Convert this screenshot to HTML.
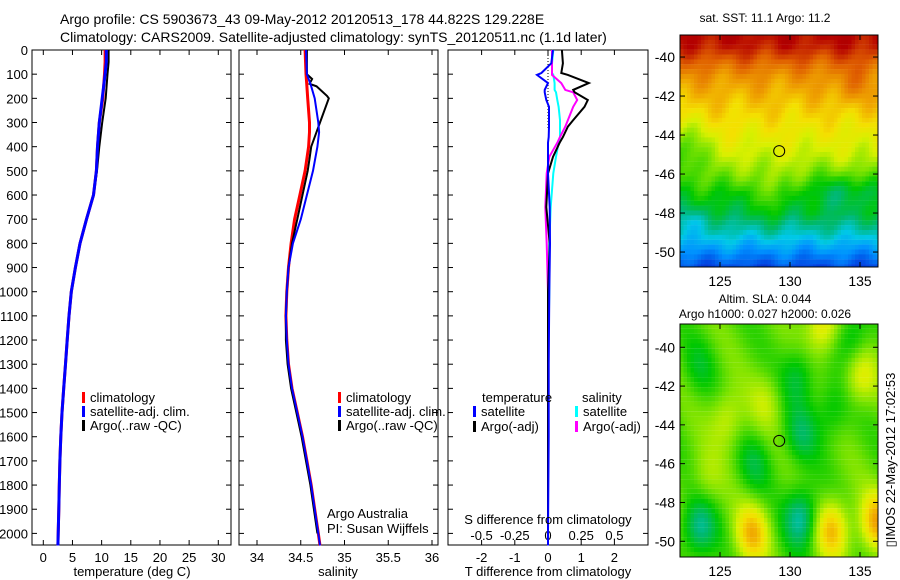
<!DOCTYPE html>
<html><head><meta charset="utf-8"><style>
body{margin:0;background:#fff;}
svg{display:block;font-family:"Liberation Sans",sans-serif;}
</style></head><body>
<svg id="c" width="900" height="580" viewBox="0 0 900 580">
<text x="60" y="24" font-size="14">Argo profile: CS 5903673_43 09-May-2012 20120513_178 44.822S 129.228E</text>
<text x="60" y="42" font-size="14">Climatology: CARS2009. Satellite-adjusted climatology: synTS_20120511.nc (1.1d later)</text>
<g id="g"></g>
</svg>
<script>
// ---- data ----
const tDepth=[0,50,100,200,300,400,500,600,700,800,900,1000,1100,1200,1300,1400,1500,1600,1700,1800,1900,2000,2050];
const tClim=[10.6,10.6,10.5,10.2,9.6,9.3,9.1,8.6,7.4,6.3,5.5,4.8,4.4,4.1,3.8,3.5,3.2,3.0,2.85,2.75,2.65,2.55,2.5];
const tSat=[10.8,10.8,10.6,10.1,9.6,9.3,9.1,8.6,7.4,6.3,5.5,4.8,4.4,4.1,3.8,3.5,3.2,3.0,2.85,2.75,2.65,2.55,2.5];
const tArgo=[11.2,11.2,11.0,10.7,10.1,9.6,9.2,8.6,7.4,6.3,5.5,4.8,4.4,4.1,3.8,3.5,3.2,3.0,2.85,2.75,2.65,2.6,2.6];
const sDepth=[0,100,150,200,300,340,400,500,600,700,800,900,1000,1100,1200,1300,1400,1500,1600,1700,1800,1900,2000,2050];
const sClim=[34.55,34.56,34.57,34.58,34.60,34.60,34.59,34.55,34.49,34.43,34.39,34.36,34.34,34.33,34.34,34.36,34.40,34.46,34.52,34.57,34.62,34.66,34.70,34.72];
const sSat=[34.56,34.57,34.62,34.66,34.70,34.71,34.69,34.64,34.57,34.50,34.41,34.36,34.34,34.33,34.34,34.36,34.40,34.46,34.52,34.57,34.62,34.66,34.70,34.72];
const argoSDepth=[0,100,120,140,150,190,200,300,400,450,500,600,700,800,900,1000,1100,1200,1300,1400,1500,1600,1700,1800,1900,2000];
const argoS=[34.57,34.57,34.63,34.60,34.68,34.80,34.82,34.72,34.62,34.60,34.58,34.52,34.46,34.40,34.36,34.34,34.33,34.33,34.35,34.39,34.45,34.51,34.56,34.61,34.65,34.69];
const dDepth=[0,55,95,103,137,165,175,207,235,290,317,360,384,442,510,650,800,1000,1300,1600,2000,2050];
const dTSat=[0.15,0.1,-0.2,-0.33,0,-0.1,-0.1,-0.05,0.03,0.03,0.03,0.02,0.0,0.0,0.0,0.05,0.06,0.04,0.02,0.02,0.0,0.0];
const dTArgo=[0.42,0.45,0.4,0.6,1.23,0.76,0.8,1.2,1.1,0.76,0.6,0.45,0.35,0.15,0.0,-0.05,0.05,0.0,0.0,0.0,0.0,0.0];
const dSSat=[0.04,0.03,0.03,0.04,0.05,0.05,0.06,0.07,0.08,0.09,0.09,0.09,0.08,0.06,0.04,0.02,0.01,0.01,0.0,0.0,0.0,0.0];
const dSArgo=[0.03,0.03,0.03,0.03,0.1,0.13,0.19,0.22,0.19,0.15,0.13,0.09,0.07,0.01,-0.01,-0.02,-0.01,0.0,0.0,0.0,0.0,0.0];
const depthTicks=[0,100,200,300,400,500,600,700,800,900,1000,1100,1200,1300,1400,1500,1600,1700,1800,1900,2000];
const tTicks=[0,5,10,15,20,25,30];
const sTicks=[34,34.5,35,35.5,36];
const dTTicks=[-2,-1,0,1,2];
const dSTicks=["-0.5","-0.25","0","0.25","0.5"];
const lonTicks=[125,130,135];
const latTicks=[-40,-42,-44,-46,-48,-50];

const NS="http://www.w3.org/2000/svg";
const G=document.getElementById('g');
function mk(tag,at,par){const e=document.createElementNS(NS,tag);for(const k in at)e.setAttribute(k,at[k]);(par||G).appendChild(e);return e;}
function txt(x,y,s,anchor,size,par){const t=mk('text',{x:x,y:y,'font-size':size||13,'text-anchor':anchor||'start'},par);t.textContent=s;return t;}
const Y=d=>50+d*0.2417;
const XT=v=>43.3+v*5.833;
const XS=v=>257+(v-34)*87.5;
const XD=v=>548+v*33.2;
const XDS=v=>548+v*132.8;

function panel(x0,x1,name){
  const r=mk('rect',{x:x0,y:50,width:x1-x0,height:495,fill:'none',stroke:'#000','stroke-width':1});
  
  
  depthTicks.forEach(d=>{mk('line',{x1:x0,x2:x0+5,y1:Y(d),y2:Y(d),stroke:'#000'});mk('line',{x1:x1-5,x2:x1,y1:Y(d),y2:Y(d),stroke:'#000'});});
}
function xticks(xs,fx,labels,ylab){xs.forEach((v,i)=>{const x=fx(v);mk('line',{x1:x,x2:x,y1:50,y2:55,stroke:'#000'});mk('line',{x1:x,x2:x,y1:540,y2:545,stroke:'#000'});if(labels){const t=txt(x,ylab,labels[i],'middle');}});}
function line(ds,vs,fx,col,name,w){
  const pts=ds.map((d,i)=>fx(vs[i]).toFixed(1)+','+Y(d).toFixed(1)).join(' ');
  const p=mk('polyline',{points:pts,fill:'none',stroke:col,'stroke-width':w||2});
  
  
}
function legend(x,y,col,s){mk('rect',{x:x,y:y-10,width:3,height:11,fill:col});const t=txt(x+8,y,s);}

// Panel 1
panel(32,231,'temperature-panel');
depthTicks.forEach(d=>{const t=txt(28,Y(d)+5,String(d),'end');});
xticks(tTicks,XT,tTicks.map(String),562);
line(tDepth,tClim,XT,'#f00','temp-climatology-line',3);
line(tDepth,tArgo,XT,'#000','temp-argo-line',2);
line(tDepth,tSat,XT,'#00f','temp-satellite-line',3);
legend(82,402,'#f00','climatology');legend(82,416,'#00f','satellite-adj. clim.');legend(82,430,'#000','Argo(..raw -QC)');
let t=txt(132,576,'temperature (deg C)','middle');

// Panel 2
panel(239,438,'salinity-panel');
xticks(sTicks,XS,sTicks.map(String),562);
line(sDepth,sClim,XS,'#f00','sal-climatology-line',3);
line(argoSDepth,argoS,XS,'#000','sal-argo-line',2);
line(sDepth,sSat,XS,'#00f','sal-satellite-line',2);
legend(338,402,'#f00','climatology');legend(338,416,'#00f','satellite-adj. clim.');legend(338,430,'#000','Argo(..raw -QC)');
txt(327,518,'Argo Australia');txt(327,533,'PI: Susan Wijffels');
t=txt(338,576,'salinity','middle');

// Panel 3
panel(448,648,'difference-panel');
xticks(dTTicks,XD,dTTicks.map(String),562);
dSTicks.forEach((s,i)=>txt(XD(dTTicks[i]),540,s,'middle'));
mk('line',{x1:548,x2:548,y1:55,y2:130,stroke:'#000','stroke-dasharray':'1,2'});
line(dDepth,dSSat,XDS,'#0ff','sdiff-satellite-line',2);
line(dDepth,dSArgo,XDS,'#f0f','sdiff-argo-line',2);
line(dDepth,dTArgo,XD,'#000','tdiff-argo-line',2);
line(dDepth,dTSat,XD,'#00f','tdiff-satellite-line',2);
txt(482,402,'temperature');txt(582,402,'salinity');
legend(473,416,'#00f','satellite');legend(473,431,'#000','Argo(-adj)');
legend(575,416,'#0ff','satellite');legend(575,431,'#f0f','Argo(-adj)');
txt(548,524,'S difference from climatology','middle');
t=txt(548,576,'T difference from climatology','middle');

// ---- maps ----
const stops=[[0,'00008b'],[0.12,'0040e0'],[0.22,'0090ff'],[0.3,'00c8e8'],[0.38,'00b870'],[0.46,'00c800'],[0.55,'80e400'],[0.62,'d8f000'],[0.68,'f4e000'],[0.75,'f0a800'],[0.85,'e06000'],[0.95,'b40000'],[1,'a00000']];
function cmap(v){v=Math.max(0,Math.min(1,v));for(let i=1;i<stops.length;i++){if(v<=stops[i][0]){const a=stops[i-1],b=stops[i],f=(v-a[0])/(b[0]-a[0]);const ca=parseInt(a[1],16),cb=parseInt(b[1],16);let r=[16,8,0].map(s=>Math.round(((ca>>s)&255)*(1-f)+((cb>>s)&255)*f));return 'rgb('+r.join(',')+')';}}return '#a00000';}
const sstLat=[-38.8,-39.5,-40.3,-41.0,-42.0,-43.0,-44.0,-45.0,-46.0,-47.0,-48.0,-49.0,-50.0,-50.8];
const sstVal=[0.95,0.92,0.84,0.78,0.73,0.69,0.65,0.61,0.55,0.47,0.42,0.33,0.22,0.13];
const slaBlobs=[[123.5,-49.3,-0.16],[130.8,-48.8,-0.18],[127.3,-49.6,0.2],[133,-49.4,0.2],[136.2,-49,0.22],[132.3,-38.9,0.15],[135,-41.5,0.12],[125.5,-43.7,0.1],[128.3,-42.8,0.07],[130.6,-41.5,-0.1],[130.8,-44.5,-0.1],[127.5,-46,-0.08],[134.5,-39.5,-0.1],[124,-46.8,0.06],[133,-43.3,-0.08],[123.5,-41,-0.06]];
function interp(xs,ys,x){for(let i=1;i<xs.length;i++){if(x>=xs[i]){const f=(x-xs[i-1])/(xs[i]-xs[i-1]);return ys[i-1]+f*(ys[i]-ys[i-1]);}}return ys[ys.length-1];}
function map(top,bot,latTop,latScale,fn,name){
  const lonX=l=>720+(l-125)*14;
  const gm=mk('g',{});
  
  
  const step=0.25;
  for(let lat=latTop;lat>-51;lat-=step){
    const y0=top+(latTop-lat)*latScale; if(y0>=bot)break;
    for(let lon=122.14;lon<136.4;lon+=step){
      const x0=lonX(lon); if(x0>=878)break;
      mk('rect',{x:x0.toFixed(1),y:y0.toFixed(1),width:Math.min(3.6,878-x0).toFixed(1),height:Math.min(latScale*step+0.1,bot-y0).toFixed(1),fill:cmap(fn(lon+step/2,lat-step/2))},gm);
    }
  }
  mk('rect',{x:680,y:top,width:198,height:bot-top,fill:'none',stroke:'#000'});
  lonTicks.forEach(l=>{const x=lonX(l);mk('line',{x1:x,x2:x,y1:top,y2:top+5,stroke:'#000'});mk('line',{x1:x,x2:x,y1:bot-5,y2:bot,stroke:'#000'});txt(x,bot+19,String(l),'middle',14);});
  latTicks.forEach(a=>{const y=top+(latTop-a)*latScale;mk('line',{x1:680,x2:685,y1:y,y2:y,stroke:'#000'});mk('line',{x1:873,x2:878,y1:y,y2:y,stroke:'#000'});txt(675,y+5,String(a),'end',14);});
  mk('circle',{cx:lonX(129.228),cy:top+(latTop+44.822)*latScale,r:5.5,fill:'none',stroke:'#000','stroke-width':1});
}
function sm(x,y,cx,cy,sx,sy){return Math.exp(-(((x-cx)/sx)**2+((y-cy)/sy)**2));}
map(35,267,-38.87,19.5,(lon,lat)=>{let v=interp(sstLat,sstVal,lat);
  v-=0.12*sm(lon,lat,122.5,-44.8,1.5,1.4);
  v-=0.07*sm(lon,lat,134,-46.8,2.5,0.9);
  v+=0.08*sm(lon,lat,128.8,-47,0.8,1.2);
  v+=0.05*sm(lon,lat,134.5,-41.5,1.5,1.0);
  v-=0.06*sm(lon,lat,123,-48.3,1.5,0.7);
  v+=0.02*Math.sin(lon*1.7+lat*1.1)+0.015*Math.sin(lon*2.9-lat*2.3);return v;},'sst-map');
map(324,557,-38.8,19.4,(lon,lat)=>{let v=0.52+0.03*Math.sin(lon*1.3+lat*0.9);slaBlobs.forEach(b=>{v+=b[2]*sm(lon,lat,b[0],b[1],1.2,1.5);});return v;},'sla-map');
txt(765,22,'sat. SST: 11.1  Argo: 11.2','middle',12);
txt(765,303,'Altim. SLA: 0.044','middle',12);
txt(765,318,'Argo h1000: 0.027 h2000: 0.026','middle',12);
const v=txt(0,0,'\u25AFIMOS 22-May-2012 17:02:53','middle',13);
v.setAttribute('transform','translate(895,460) rotate(-90)');


</script>
</body></html>
